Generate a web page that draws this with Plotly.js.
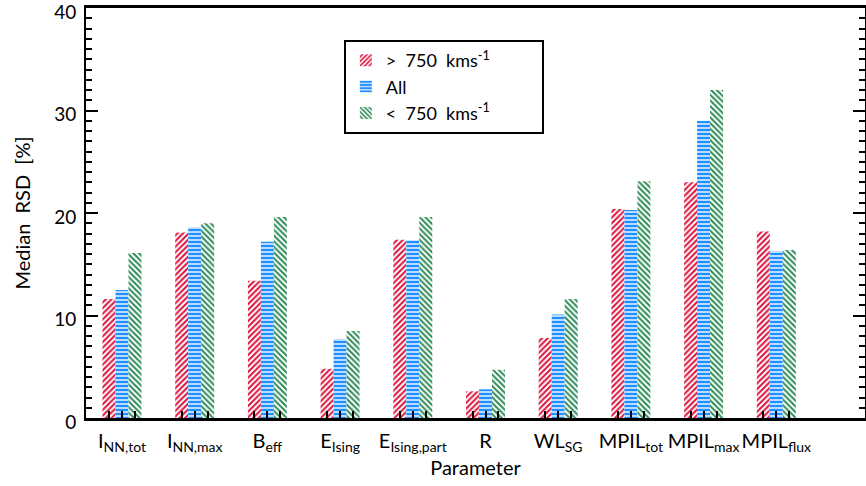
<!DOCTYPE html>
<html>
<head>
<meta charset="utf-8">
<script src="https://cdn.plot.ly/plotly-3.0.1.min.js"></script>
<style>html,body{margin:0;padding:0;background:#fff;}#chart{width:866px;height:486px;}</style>
</head>
<body>
<div id="chart"></div>
<script>
const categories = ['I<sub>NN,tot</sub>', 'I<sub>NN,max</sub>', 'B<sub>eff</sub>', 'E<sub>Ising</sub>', 'E<sub>Ising,part</sub>', 'R', 'WL<sub>SG</sub>', 'MPIL<sub>tot</sub>', 'MPIL<sub>max</sub>', 'MPIL<sub>flux</sub>'];
const fastCME = [11.6, 18.1, 13.4, 4.8, 17.4, 2.6, 7.8, 20.4, 23.0, 18.2];
const allCME  = [12.5, 18.6, 17.2, 7.7, 17.35, 2.8, 10.1, 20.3, 29.0, 16.3];
const slowCME = [16.1, 19.0, 19.6, 8.5, 19.6, 4.7, 11.6, 23.1, 32.0, 16.4];
const seriesNames = ['&gt;  750  kms<sup>-1</sup>', 'All', '&lt;  750  kms<sup>-1</sup>'];
const yTicks = [0, 10, 20, 30, 40];

const xIdx = categories.map((_, i) => i);
const FONT = 'Lato, "DejaVu Sans", sans-serif';
const bargap = 0.464;
const barW = (1 - bargap) / 3;
const pad = '&nbsp;'.repeat(10);

function tr(y, name, shape, fg, bg) {
  return {
    type: 'bar', x: xIdx, y: y, name: name + pad,
    marker: {color: bg, line: {width: 0},
      pattern: {shape: shape, fgcolor: fg, bgcolor: bg, size: 4, solidity: 0.5, fillmode: 'replace'}},
    hoverinfo: 'skip'
  };
}

const data = [
  tr(fastCME, seriesNames[0], '/', '#dc143c', '#ffffff'),
  tr(allCME, seriesNames[1], '-', '#1e90ff', '#b8dbff'),
  tr(slowCME, seriesNames[2], '\\', '#2e8b57', '#ffffff')
];

const minorX = [];
xIdx.forEach(i => { minorX.push(i - barW); minorX.push(i + barW); });

const layout = {
  width: 866, height: 486,
  margin: {l: 86, r: 1, t: 8, b: 68},
  paper_bgcolor: '#fff', plot_bgcolor: '#fff',
  font: {family: FONT, color: '#000'},
  barmode: 'group', bargap: bargap, bargroupgap: 0,
  showlegend: true,
  legend: {x: 0.331, y: 0.922, xanchor: 'left', yanchor: 'top',
    bordercolor: '#000', borderwidth: 2, bgcolor: '#fff',
    font: {family: FONT, size: 18, color: '#000'}, itemwidth: 30, tracegroupgap: 0},
  xaxis: {
    range: [-0.495, 10.22], tickmode: 'array', tickvals: xIdx, ticktext: categories,
    tickangle: 0,
    ticks: 'inside', ticklen: 7, tickwidth: 2, tickcolor: '#000',
    minor: {tickmode: 'array', tickvals: minorX, ticks: 'inside', ticklen: 7, tickwidth: 2, tickcolor: '#000'},
    showline: true, linecolor: '#000', linewidth: 3, mirror: true,
    showgrid: false, zeroline: false,
    tickfont: {family: FONT, size: 20, color: '#000'},
    ticklabelstandoff: 3,
    title: {text: 'Parameter', font: {family: FONT, size: 20, color: '#000'}, standoff: 0}
  },
  yaxis: {
    range: [0, 40], tickmode: 'array', tickvals: yTicks,
    ticks: 'inside', ticklen: 12, tickwidth: 2, tickcolor: '#000',
    minor: {dtick: 1, ticks: 'inside', ticklen: 6, tickwidth: 2, tickcolor: '#000'},
    showline: true, linecolor: '#000', linewidth: 2, mirror: 'ticks',
    showgrid: false, zeroline: false,
    tickfont: {family: FONT, size: 19, color: '#000'},
    ticklabelstandoff: 4, ticklabeloverflow: 'allow', ticklabelshift: 4,
    title: {text: 'Median  RSD  [%]', font: {family: FONT, size: 20, color: '#000'}, standoff: 18}
  }
};

Plotly.newPlot('chart', data, layout, {displayModeBar: false, staticPlot: true});
</script>
</body>
</html>
